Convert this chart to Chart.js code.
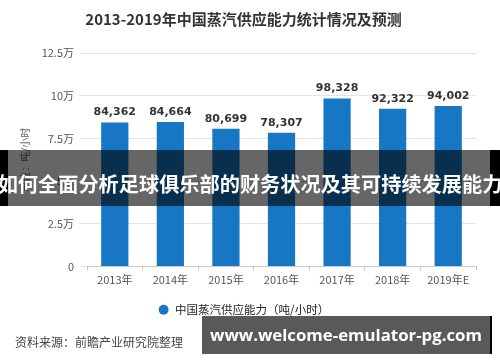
<!DOCTYPE html>
<html>
<head>
<meta charset="utf-8">
<script src="https://cdn.jsdelivr.net/npm/chart.js@4"></script>
<style>
  html, body { margin: 0; padding: 0; background: #fff; }
  #wrap { position: relative; width: 500px; height: 362px; overflow: hidden; }
  #c { position: absolute; left: 0; top: 0; }
  #source { position: absolute; left: 15px; top: 333px; font: 12px "Noto Sans CJK SC", sans-serif; color: #444; line-height: 18px; white-space: nowrap; }
  #banner { position: absolute; left: 0; top: 150px; width: 500px; height: 56px;
    background: linear-gradient(to right, #000 0, #000 8px, rgba(0,0,0,0.6) 8px, rgba(0,0,0,0.6) 490px, #000 490px, #000 500px); }
  #bannerText { position: absolute; left: -10px; width: 520px; top: 169px; height: 28px; line-height: 28px; text-align: center;
    color: #fff; font: bold 20.2px "Noto Sans CJK SC", sans-serif; white-space: nowrap; }
  #foot { position: absolute; left: 202px; top: 316px; width: 288px; height: 38px; background: rgba(0,0,0,0.65);
    border-right: 2px solid #000; color: #fff; font: bold 16.8px "Open Sans", sans-serif; text-align: center; line-height: 38px; white-space: nowrap; }
</style>
</head>
<body>
<div id="wrap">
  <canvas id="c" width="500" height="362"></canvas>
  <div id="source">资料来源：前瞻产业研究院整理</div>
  <div id="banner"></div>
  <div id="bannerText">如何全面分析足球俱乐部的财务状况及其可持续发展能力</div>
  <div id="foot">www.welcome-emulator-pg.com</div>
</div>
<script>
const categories = ['2013年', '2014年', '2015年', '2016年', '2017年', '2018年', '2019年E'];
const capacity = [84362, 84664, 80699, 78307, 98328, 92322, 94002];
const yTickLabels = ['0', '2.5万', '5万', '7.5万', '10万', '12.5万'];
const seriesName = '中国蒸汽供应能力（吨/小时）';
const chartTitle = '2013-2019年中国蒸汽供应能力统计情况及预测';
const yAxisTitle = '单位：吨/小时';

const CJK = '"Noto Sans CJK SC", sans-serif';

const valueLabels = {
  id: 'valueLabels',
  afterDatasetsDraw(chart) {
    const ctx = chart.ctx;
    const meta = chart.getDatasetMeta(0);
    ctx.save();
    ctx.font = 'bold 11px "DejaVu Sans", sans-serif';
    ctx.fillStyle = '#333';
    ctx.textAlign = 'center';
    ctx.textBaseline = 'middle';
    meta.data.forEach((bar, i) => {
      ctx.fillText(capacity[i].toLocaleString('en-US'), bar.x, bar.y - 10);
    });
    ctx.restore();
  }
};

new Chart(document.getElementById('c'), {
  type: 'bar',
  data: {
    labels: categories,
    datasets: [{
      label: seriesName,
      data: capacity,
      backgroundColor: '#1777c4',
      borderWidth: 0,
      categoryPercentage: 1,
      barPercentage: 0.49
    }]
  },
  options: {
    responsive: false,
    animation: false,
    events: [],
    layout: { padding: { left: 11, right: 24, top: 0, bottom: 36.5 } },
    plugins: {
      title: {
        display: true,
        text: chartTitle,
        color: '#333',
        font: { family: CJK, size: 15, weight: 'bold' },
        padding: { top: 10, bottom: 25 }
      },
      legend: {
        display: true,
        position: 'bottom',
        labels: {
          usePointStyle: true,
          pointStyle: 'circle',
          boxHeight: 7,
          boxWidth: 12,
          padding: 10,
          color: '#222',
          font: { family: CJK, size: 11.5 }
        }
      },
      tooltip: { enabled: false }
    },
    scales: {
      x: {
        offset: true,
        grid: { drawOnChartArea: false, tickLength: 4, color: '#c8c8c8' },
        border: { display: true, color: '#c8c8c8' },
        ticks: { color: '#555', padding: 3, font: { family: CJK, size: 11 } },
        afterFit(scale) { scale.height = 27.5; }
      },
      y: {
        min: 0,
        max: 125000,
        ticks: {
          stepSize: 25000,
          color: '#555',
          padding: 6,
          font: { family: CJK, size: 11 },
          callback: (v, i) => yTickLabels[i]
        },
        grid: { color: '#e3e3e3', tickLength: 7 },
        border: { display: false },
        title: {
          display: true,
          text: yAxisTitle,
          color: '#666',
          font: { family: CJK, size: 10 },
          padding: { top: 8, bottom: 0 }
        },
        afterFit(scale) { scale.width = 76; }
      }
    }
  },
  plugins: [valueLabels]
});
</script>
</body>
</html>
